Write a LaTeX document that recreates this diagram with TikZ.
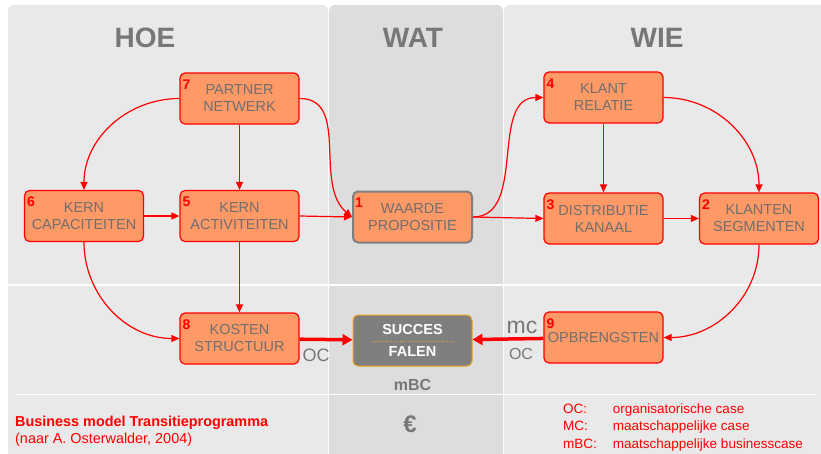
\documentclass[tikz,border=0pt]{standalone}
\usepackage{fontspec}
\setmainfont{Liberation Sans}
\usetikzlibrary{arrows.meta}

\definecolor{panel}{HTML}{E9E9E9}
\definecolor{panelmid}{HTML}{DDDDDD}
\definecolor{boxfill}{HTML}{FF9966}
\definecolor{txtgray}{HTML}{6F6F6F}
\definecolor{headgray}{HTML}{777777}
\definecolor{sfgray}{HTML}{7F7F7F}
\definecolor{sforange}{HTML}{F5A21E}

\tikzset{
  blok/.style={draw=red, fill=boxfill, line width=1.2pt, rounded corners=5pt,
    minimum width=119pt, minimum height=51pt, inner sep=0pt, align=center,
    text=txtgray, font=\fontsize{14.5}{17}\selectfont},
  nummer/.style={anchor=north west, text=red, inner sep=0pt, xshift=3pt, yshift=-7pt,
    font=\bfseries\fontsize{14}{14}\selectfont},
  pijl/.style={draw=red, line width=1.2pt, -{Triangle[length=8pt,width=7pt]}},
  dikpijl/.style={draw=red, line width=3.5pt, -{Triangle[length=10pt,width=11pt]}},
  kop/.style={text=headgray, font=\bfseries\fontsize{28}{28}\selectfont},
  grijs/.style={text=headgray, inner sep=0pt}
}

\begin{document}
\begin{tikzpicture}[x=1pt,y=-1pt]
        \useasboundingbox (0,0) rectangle (821,453);

        % Columns HOE / WAT / WIE
        \fill[panel, rounded corners=6pt] (8,5) rectangle (328,470);
        \fill[panelmid, rounded corners=6pt] (329,5) rectangle (503,470);
        \fill[panel, rounded corners=6pt] (504,5) rectangle (830,470);
        \draw[white, line width=2pt] (8,285) -- (821,285);
        \draw[white, line width=1pt] (17,394) -- (815,394);

        % Titles
        \node[kop] (hoe) at (145,38) {HOE};
        \node[kop] (wat) at (413,38) {WAT};
        \node[kop] (wie) at (657,38) {WIE};

        % Building blocks (named after their number)
        \node[blok, draw=sfgray, line width=2pt, label={[nummer]north west:1}] (I) at (412.5,217) {WAARDE\\PROPOSITIE};
        \node[blok, label={[nummer]north west:2}] (II) at (759,218.5) {KLANTEN\\SEGMENTEN};
        \node[blok, label={[nummer]north west:3}] (III) at (603.5,218.5) {DISTRIBUTIE\\KANAAL};
        \node[blok, label={[nummer]north west:4}] (IV) at (603.5,97.5) {KLANT\\RELATIE};
        \node[blok, label={[nummer]north west:5}] (V) at (239.5,216) {KERN\\ACTIVITEITEN};
        \node[blok, label={[nummer]north west:6}] (VI) at (84,216) {KERN\\CAPACITEITEN};
        \node[blok, label={[nummer]north west:7}] (VII) at (239.5,98.5) {PARTNER\\NETWERK};
        \node[blok, label={[nummer]north west:8}] (VIII) at (239.5,338.5) {KOSTEN\\STRUCTUUR};
        \node[blok, label={[nummer]north west:9}] (IX) at (603.5,337.5) {OPBRENGSTEN};

        % Succes / falen
        \node[draw=sforange, fill=sfgray, line width=1pt, rounded corners=5pt, minimum width=119pt,
          minimum height=51pt, align=center, text=white, font=\bfseries\fontsize{14.5}{22}\selectfont] (S) at (412.5,340.5) {SUCCES\\FALEN};
        \draw[sforange, dotted, line width=0.8pt] ([xshift=-41pt,yshift=-1pt]S.center) -- ([xshift=41pt,yshift=-1pt]S.center);

        % Draw the arrows of the HOE side
        \draw[pijl] (VII.west) to[out=180,in=90] (VI.north);
        \draw[pijl] (VII) -- (V);
        \draw[pijl] (VII.east) to[out=0,in=140] (I.west);
        \draw[pijl] (VI) -- (V);
        \draw[pijl] (V.east) -- (I.west);
        \draw[pijl] (VI.south) to[out=-90,in=180] (VIII.west);
        \draw[pijl] (V) -- (VIII);

        % Draw the arrows of the WIE side
        \draw[pijl] (I.east) to[out=0,in=180] (IV.west);
        \draw[pijl] (I.east) -- (III.west);
        \draw[pijl] (IV) -- (III);
        \draw[pijl] (IV.east) to[out=0,in=90] (II.north);
        \draw[pijl] (III) -- (II);
        \draw[pijl] (II.south) to[out=-90,in=0] (IX.east);

        % Costs and revenues
        \draw[dikpijl] (VIII) -- (S);
        \draw[dikpijl] (IX) -- (S);
        \node[grijs, font=\fontsize{18}{18}\selectfont] (ocL) at (316,355) {OC};
        \node[grijs, font=\fontsize{23}{23}\selectfont] (mc) at (522,327) {mc};
        \node[grijs, font=\fontsize{16}{16}\selectfont] (ocR) at (521,354) {OC};
        \node[grijs, font=\bfseries\fontsize{16}{16}\selectfont] (mbc) at (412.5,385) {mBC};
        \node[grijs, font=\bfseries\fontsize{24}{24}\selectfont] (euro) at (410,424) {€};

        % Caption and legend
        \node[anchor=base west, inner sep=0pt, text=red, font=\bfseries\fontsize{14.4}{14.4}\selectfont] (titel) at (15,426) {Business model Transitieprogramma};
        \node[anchor=base west, inner sep=0pt, text=red, font=\fontsize{14.4}{14.4}\selectfont] (bron) at (15,443) {(naar A. Osterwalder, 2004)};
        \node[anchor=base west, inner sep=0pt, text=red, font=\fontsize{13.5}{17.5}\selectfont] (legenda) at (563,413)
          {\begin{tabular}[t]{@{}l@{\hspace{16pt}}l@{}}
            OC: & organisatorische case\\
            MC: & maatschappelijke case\\
            mBC: & maatschappelijke businesscase
          \end{tabular}};
\end{tikzpicture}
\end{document}
